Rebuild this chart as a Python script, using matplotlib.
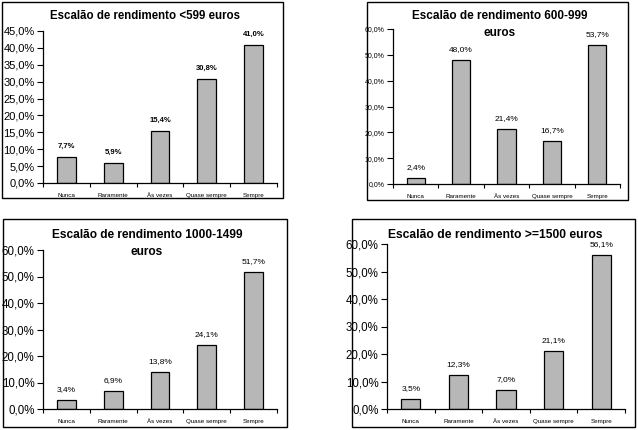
import matplotlib
matplotlib.use("Agg")
import matplotlib.pyplot as plt
from matplotlib.patches import Rectangle
from matplotlib.ticker import FuncFormatter, MultipleLocator, FixedLocator

plt.rcParams['font.family'] = ['Liberation Sans', 'DejaVu Sans']

categories = ["Nunca", "Raramente", "Às vezes", "Quase sempre", "Sempre"]
v1 = [7.7, 5.9, 15.4, 30.8, 41.0]
v2 = [2.4, 48.0, 21.4, 16.7, 53.7]
v3 = [3.4, 6.9, 13.8, 24.1, 51.7]
v4 = [3.5, 12.3, 7.0, 21.1, 56.1]
titles = ["Escalão de rendimento <599 euros",
          "Escalão de rendimento 600-999\neuros",
          "Escalão de rendimento 1000-1499\neuros",
          "Escalão de rendimento >=1500 euros"]

W, H = 638, 430
fig = plt.figure(figsize=(W / 100, H / 100), dpi=100)


def px_axes(l, t, r, b):
    return fig.add_axes([l / W, 1 - b / H, (r - l) / W, (b - t) / H])


def box(l, t, r, b):
    fig.patches.append(Rectangle((l / W, 1 - b / H), (r - l) / W, (b - t) / H,
                                 transform=fig.transFigure, fill=False,
                                 edgecolor='black', linewidth=1.0))


fmt = FuncFormatter(lambda v, p: f"{v:.1f}".replace('.', ',') + "%")

panels = [
    dict(vals=v1, title=titles[0], ax=(43, 31, 277, 183), box=(2, 2, 283, 198),
         ymax=45, step=5, ytfs=8, vfs=5.5, vbold=True, tx=145, ty=16, tfs=8.3),
    dict(vals=v2, title=titles[1], ax=(393, 29, 620, 184), box=(367, 2, 628, 200),
         ymax=60, step=10, ytfs=5, vfs=6, vbold=False, tx=500, ty=16, tfs=8.5),
    dict(vals=v3, title=titles[2], ax=(43, 250, 277, 409), box=(3, 219, 287, 427),
         ymax=60, step=10, ytfs=8.3, vfs=6, vbold=False, tx=147, ty=235, tfs=8.6),
    dict(vals=v4, title=titles[3], ax=(387, 244, 625, 409), box=(352, 219, 635, 427),
         ymax=60, step=10, ytfs=8.3, vfs=6, vbold=False, tx=495, ty=235, tfs=8.7),
]
line_gap = 17  # px between title lines

for p in panels:
    box(*p['box'])
    ax = px_axes(*p['ax'])
    x = list(range(len(categories)))
    ax.bar(x, p['vals'], width=0.4, color='#b7b7b7', edgecolor='black', linewidth=0.9)
    ax.set_xlim(-0.5, len(categories) - 0.5)
    ax.set_ylim(0, p['ymax'])
    ax.yaxis.set_major_locator(MultipleLocator(p['step']))
    ax.yaxis.set_major_formatter(fmt)
    ax.tick_params(axis='y', labelsize=p['ytfs'], length=4, width=0.8, pad=2, direction='out')
    ax.set_xticks(x)
    ax.set_xticklabels(categories, fontsize=4.5)
    ax.tick_params(axis='x', which='major', length=0, pad=7)
    ax.xaxis.set_minor_locator(FixedLocator([i - 0.5 for i in range(len(categories) + 1)]))
    ax.tick_params(axis='x', which='minor', length=3, width=0.8, direction='out')
    for s in ['top', 'right']:
        ax.spines[s].set_visible(False)
    for s in ['left', 'bottom']:
        ax.spines[s].set_linewidth(0.9)
    for xi, v in zip(x, p['vals']):
        ax.annotate(f"{v:.1f}".replace('.', ',') + "%", (xi, v), xytext=(0, 5),
                    textcoords='offset points', ha='center', va='bottom',
                    fontsize=p['vfs'], fontweight='bold' if p['vbold'] else 'normal')
    for i, line in enumerate(p['title'].split('\n')):
        fig.text(p['tx'] / W, 1 - (p['ty'] + i * line_gap) / H, line, ha='center',
                 va='center', fontsize=p['tfs'], fontweight='bold')

fig.savefig("out.png", dpi=100)
